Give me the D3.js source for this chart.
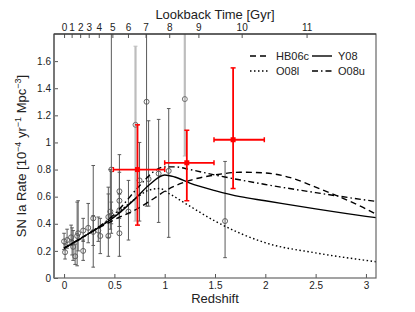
<!DOCTYPE html>
<html>
<head>
<meta charset="utf-8">
<script src="https://cdn.jsdelivr.net/npm/d3@7"></script>
<style>
  body { margin: 0; background: #fff; }
  text { font-family: "Liberation Sans", Arial, sans-serif; fill: #222; }
</style>
</head>
<body>
<svg id="svg1" width="415" height="312"></svg>
<script>
// top axis: lookback time labels and the redshift where each sits
const lookbackLabels = ['0','1','2','3','4','5','6','7','8','9','10','11'];
const lookbackZ = [0, 0.075, 0.16, 0.245, 0.345, 0.48, 0.635, 0.81, 1.045, 1.335, 1.765, 2.41];

const xTicks = [0, 0.5, 1, 1.5, 2, 2.5, 3];
const yTicks = [0, 0.2, 0.4, 0.6, 0.8, 1, 1.2, 1.4, 1.6];

// model curves [z, rate]
const hb06c = [[0,0.22],[0.25,0.33],[0.5,0.43],[0.75,0.52],[0.9,0.59],[1.0,0.64],[1.25,0.72],[1.5,0.76],[1.75,0.78],[2.0,0.775],[2.25,0.74],[2.5,0.67],[2.75,0.595],[3.0,0.51],[3.1,0.47]];
const y08 = [[0,0.22],[0.25,0.33],[0.5,0.45],[0.7,0.58],[0.85,0.69],[1.0,0.76],[1.1,0.745],[1.25,0.70],[1.5,0.645],[1.75,0.60],[2.0,0.57],[2.5,0.51],[3.0,0.455],[3.1,0.445]];
const o08l = [[0,0.22],[0.25,0.33],[0.5,0.46],[0.7,0.58],[0.85,0.65],[0.95,0.66],[1.05,0.62],[1.25,0.53],[1.5,0.42],[1.75,0.33],[2.0,0.26],[2.5,0.185],[3.0,0.13],[3.1,0.12]];
const o08u = [[0,0.22],[0.25,0.33],[0.5,0.47],[0.75,0.68],[0.9,0.79],[1.0,0.82],[1.1,0.82],[1.25,0.80],[1.5,0.76],[2.0,0.69],[2.5,0.63],[3.0,0.575],[3.1,0.565]];

// literature measurements: z, rate, low, high
const litZ  = [0.00,0.01,0.03,0.07,0.08,0.09,0.11,0.13,0.14,0.19,0.19,0.24,0.29,0.29,0.34,0.36,0.44,0.44,0.46,0.47,0.47,0.55,0.55,0.55,0.55,0.64,0.75,0.82,0.84,0.94,1.04,1.60];
const litR  = [0.27,0.19,0.28,0.30,0.26,0.23,0.16,0.31,0.33,0.35,0.20,0.37,0.44,0.34,0.35,0.31,0.31,0.45,0.49,0.80,0.46,0.33,0.64,0.57,0.50,0.49,0.72,1.30,0.73,0.77,0.79,0.42];
const litLo = [0.21,0.14,0.22,0.24,0.17,0.13,0.10,0.09,0.20,0.27,0.13,0.26,0.08,0.24,0.27,0.18,0.16,0.30,0.36,0.40,0.33,0.16,0.44,0.38,0.38,0.28,0.42,0.53,0.53,0.41,0.30,0.15];
const litHi = [0.33,0.25,0.36,0.39,0.37,0.35,0.25,0.56,0.57,0.44,0.28,0.55,0.83,0.46,0.45,0.44,0.62,0.67,0.80,1.90,0.56,0.62,0.91,0.78,0.62,0.72,1.00,1.90,1.16,1.17,1.25,0.86];

// highlighted (light grey) measurements
const hiZ = [0.71, 1.20];
const hiR = [1.13, 1.32];
const hiLo = [0.42, 0.90];
const hiHi = [1.71, 1.90];

// this work (red)
const redZ = [0.73, 1.22, 1.68];
const redZlo = [0.49, 1.0, 1.49];
const redZhi = [1.0, 1.49, 1.99];
const redR = [0.80, 0.85, 1.02];
const redLo = [0.39, 0.57, 0.66];
const redHi = [1.13, 1.09, 1.55];

const svg = d3.select('#svg1');
const width = +svg.attr('width');
const height = +svg.attr('height');
const margin = { top: 34, right: 39, bottom: 34, left: 54 };
const innerWidth = width - margin.left - margin.right;
const innerHeight = height - margin.top - margin.bottom;

const x = d3.scaleLinear().domain([-0.1, 3.1]).range([0, innerWidth]);
const y = d3.scaleLinear().domain([0, 1.8]).range([innerHeight, 0]);

const g = svg.append('g').attr('transform', `translate(${margin.left},${margin.top})`);

g.append('clipPath').attr('id', 'clip')
  .append('rect').attr('width', innerWidth).attr('height', innerHeight);
const plot = g.append('g').attr('clip-path', 'url(#clip)');

// error bars helper
const errBars = (zs, los, his, color, w, cap) => {
  zs.forEach((z, i) => {
    const px = x(z);
    plot.append('line').attr('x1', px).attr('x2', px)
      .attr('y1', y(los[i])).attr('y2', y(his[i]))
      .attr('stroke', color).attr('stroke-width', w);
    [los[i], his[i]].forEach(v => {
      plot.append('line').attr('x1', px - cap).attr('x2', px + cap)
        .attr('y1', y(v)).attr('y2', y(v))
        .attr('stroke', color).attr('stroke-width', 1);
    });
  });
};

errBars(hiZ, hiLo, hiHi, '#bdbdbd', 2.2, 2);
hiZ.forEach((z, i) => {
  plot.append('circle').attr('cx', x(z)).attr('cy', y(hiR[i])).attr('r', 2.5)
    .attr('fill', 'none').attr('stroke', '#666').attr('stroke-width', 0.9);
});

errBars(litZ, litLo, litHi, '#5a5a5a', 1, 1.8);
litZ.forEach((z, i) => {
  plot.append('circle').attr('cx', x(z)).attr('cy', y(litR[i])).attr('r', 2.5)
    .attr('fill', 'none').attr('stroke', '#555').attr('stroke-width', 0.9);
});

// model curves
const line = d3.line().x(d => x(d[0])).y(d => y(d[1])).curve(d3.curveMonotoneX);
const models = [
  { data: hb06c, dash: '6,4', name: 'HB06c' },
  { data: y08, dash: null, name: 'Y08' },
  { data: o08l, dash: '1.5,2.5', name: 'O08l' },
  { data: o08u, dash: '6,3,1.5,3', name: 'O08u' }
];
models.forEach(m => {
  plot.append('path').attr('d', line(m.data))
    .attr('fill', 'none').attr('stroke', '#000').attr('stroke-width', 1.4)
    .attr('stroke-dasharray', m.dash);
});

// red points
redZ.forEach((z, i) => {
  const px = x(z), py = y(redR[i]);
  plot.append('line').attr('x1', px).attr('x2', px)
    .attr('y1', y(redLo[i])).attr('y2', y(redHi[i]))
    .attr('stroke', '#f00').attr('stroke-width', 1.8);
  plot.append('line').attr('x1', x(redZlo[i])).attr('x2', x(redZhi[i]))
    .attr('y1', py).attr('y2', py)
    .attr('stroke', '#f00').attr('stroke-width', 1.8);
  [redLo[i], redHi[i]].forEach(v => {
    plot.append('line').attr('x1', px - 2.5).attr('x2', px + 2.5)
      .attr('y1', y(v)).attr('y2', y(v)).attr('stroke', '#f00').attr('stroke-width', 1.5);
  });
  [redZlo[i], redZhi[i]].forEach(v => {
    plot.append('line').attr('x1', x(v)).attr('x2', x(v))
      .attr('y1', py - 2.5).attr('y2', py + 2.5).attr('stroke', '#f00').attr('stroke-width', 1.5);
  });
  plot.append('rect').attr('x', px - 2.5).attr('y', py - 2.5)
    .attr('width', 5).attr('height', 5).attr('fill', '#f00');
});

// axes, ticks pointing inward
const styleAxis = sel => {
  sel.select('.domain').remove();
  sel.selectAll('.tick line').attr('stroke', '#555');
  sel.selectAll('text').attr('font-size', 10).attr('fill', '#222')
    .attr('font-family', '"Liberation Sans", Arial, sans-serif');
};

g.append('g').attr('transform', `translate(0,${innerHeight})`)
  .call(d3.axisBottom(x).tickValues(xTicks).tickSizeInner(-4).tickSizeOuter(0)
    .tickPadding(4).tickFormat(d3.format('')))
  .call(styleAxis);

g.append('g')
  .call(d3.axisLeft(y).tickValues(yTicks).tickSizeInner(-4).tickSizeOuter(0)
    .tickPadding(3).tickFormat(d3.format('')))
  .call(styleAxis);

g.append('g')
  .call(d3.axisTop(x).tickValues(lookbackZ).tickSizeInner(-4).tickSizeOuter(0)
    .tickPadding(3).tickFormat((d, i) => lookbackLabels[i]))
  .call(styleAxis);

// frame
g.append('rect').attr('width', innerWidth).attr('height', innerHeight)
  .attr('fill', 'none').attr('stroke', '#666').attr('stroke-width', 1.2);
g.append('line').attr('x1', 0).attr('x2', 0).attr('y1', 0).attr('y2', innerHeight)
  .attr('stroke', '#777').attr('stroke-width', 2);
g.append('line').attr('x1', 0).attr('x2', innerWidth).attr('y1', 0).attr('y2', 0)
  .attr('stroke', '#222').attr('stroke-width', 1.2);

// legend
const legend = [
  { m: models[0], x: 196, y: 22 },
  { m: models[1], x: 258, y: 22 },
  { m: models[2], x: 196, y: 37 },
  { m: models[3], x: 258, y: 37 }
];
legend.forEach(l => {
  g.append('line').attr('x1', l.x).attr('x2', l.x + 20).attr('y1', l.y).attr('y2', l.y)
    .attr('stroke', '#000').attr('stroke-width', 1.4).attr('stroke-dasharray', l.m.dash);
  g.append('text').attr('x', l.x + 26).attr('y', l.y).attr('dy', '0.35em')
    .attr('font-size', 11).text(l.m.name);
});

// titles
svg.append('text').attr('x', margin.left + innerWidth / 2).attr('y', 19)
  .attr('text-anchor', 'middle').attr('font-size', 13).text('Lookback Time [Gyr]');

svg.append('text').attr('x', margin.left + innerWidth / 2).attr('y', 303)
  .attr('text-anchor', 'middle').attr('font-size', 13).text('Redshift');

const yl = svg.append('text')
  .attr('transform', `translate(26,${margin.top + innerHeight / 2}) rotate(-90)`)
  .attr('text-anchor', 'middle').attr('font-size', 13);
yl.append('tspan').text('SN Ia Rate [10');
yl.append('tspan').attr('baseline-shift', 'super').attr('font-size', 9).text('−4');
yl.append('tspan').text(' yr');
yl.append('tspan').attr('baseline-shift', 'super').attr('font-size', 9).text('−1');
yl.append('tspan').text(' Mpc');
yl.append('tspan').attr('baseline-shift', 'super').attr('font-size', 9).text('−3');
yl.append('tspan').text(']');
</script>
</body>
</html>
